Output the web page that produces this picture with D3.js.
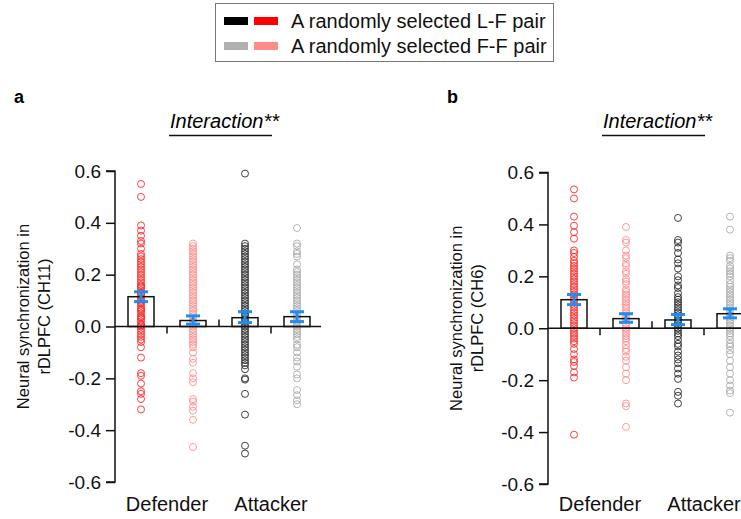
<!DOCTYPE html>
<html><head><meta charset="utf-8">
<script src="https://cdn.jsdelivr.net/npm/d3@7"></script>
<style>body{margin:0;background:#fff}svg{display:block;font-family:"Liberation Sans",Arial,sans-serif}</style>
</head><body>
<svg id="c" width="741" height="519"></svg>
<script>
const groups = ["Defender L-F","Defender F-F","Attacker L-F","Attacker F-F"];
const roles = ["Defender","Attacker"];
const yTicks = [0.6,0.4,0.2,0.0,-0.2,-0.4,-0.6];
const colors = ["#ff2020","#ff8a8a","#222222","#a8a8a8"];
const legendRows = ["A randomly selected L-F pair","A randomly selected F-F pair"];
const legendColors = [["#000000","#ff0000"],["#b0b0b0","#ff8a8a"]];

// Panel a (CH11)
const aMeans = [0.115,0.023,0.034,0.038];
const aLow = [0.096,0.009,0.015,0.019];
const aHigh = [0.134,0.041,0.057,0.057];
const aRed = [0.55,0.50,0.39,0.37,0.35,0.33,0.32,0.30,0.28,0.27,0.26,0.25,0.24,0.23,0.22,0.21,0.20,0.19,0.18,0.17,0.16,0.155,0.15,0.14,0.13,0.125,0.12,0.11,0.10,0.095,0.09,0.08,0.07,0.065,0.06,0.05,0.04,0.035,0.03,0.02,0.01,0.005,0.0,-0.01,-0.02,-0.03,-0.04,-0.05,-0.06,-0.08,-0.12,-0.18,-0.19,-0.22,-0.25,-0.26,-0.28,-0.32];
const aPink = [0.32,0.31,0.30,0.29,0.28,0.27,0.26,0.25,0.24,0.23,0.22,0.21,0.20,0.19,0.18,0.17,0.16,0.15,0.14,0.13,0.12,0.11,0.10,0.09,0.08,0.07,0.06,0.05,0.04,0.03,0.02,0.01,0.0,-0.01,-0.02,-0.03,-0.04,-0.05,-0.06,-0.07,-0.08,-0.10,-0.125,-0.14,-0.18,-0.20,-0.215,-0.28,-0.29,-0.31,-0.325,-0.36,-0.465];
const aBlack = [0.59,0.32,0.31,0.30,0.29,0.28,0.27,0.26,0.25,0.24,0.23,0.22,0.21,0.20,0.19,0.18,0.17,0.16,0.15,0.14,0.13,0.12,0.11,0.10,0.09,0.08,0.07,0.06,0.05,0.04,0.03,0.02,0.01,0.0,-0.01,-0.02,-0.03,-0.04,-0.05,-0.06,-0.07,-0.08,-0.09,-0.10,-0.11,-0.12,-0.13,-0.14,-0.15,-0.165,-0.20,-0.205,-0.26,-0.34,-0.46,-0.49];
const aGray = [0.38,0.32,0.31,0.29,0.28,0.27,0.24,0.22,0.21,0.20,0.19,0.18,0.17,0.16,0.15,0.14,0.13,0.12,0.11,0.10,0.09,0.08,0.07,0.06,0.05,0.04,0.03,0.02,0.01,0.0,-0.01,-0.02,-0.03,-0.04,-0.05,-0.07,-0.08,-0.10,-0.12,-0.135,-0.155,-0.185,-0.20,-0.245,-0.265,-0.285,-0.30];

// Panel b (CH6)
const bMeans = [0.110,0.037,0.032,0.056];
const bLow = [0.091,0.023,0.014,0.040];
const bHigh = [0.130,0.056,0.053,0.075];
const bRed = [0.535,0.50,0.43,0.395,0.37,0.345,0.30,0.29,0.275,0.26,0.25,0.24,0.23,0.22,0.21,0.20,0.19,0.18,0.17,0.16,0.15,0.14,0.13,0.12,0.11,0.10,0.09,0.08,0.07,0.06,0.05,0.04,0.03,0.02,0.01,0.0,-0.01,-0.02,-0.03,-0.04,-0.05,-0.06,-0.08,-0.10,-0.12,-0.13,-0.145,-0.17,-0.19,-0.41];
const bPink = [0.39,0.34,0.33,0.30,0.28,0.27,0.25,0.24,0.22,0.21,0.19,0.18,0.17,0.15,0.14,0.13,0.12,0.11,0.10,0.09,0.08,0.07,0.06,0.05,0.04,0.03,0.02,0.01,0.0,-0.01,-0.02,-0.03,-0.04,-0.05,-0.065,-0.08,-0.09,-0.11,-0.125,-0.15,-0.175,-0.20,-0.29,-0.30,-0.38];
const bBlack = [0.425,0.34,0.33,0.31,0.29,0.265,0.25,0.23,0.20,0.185,0.165,0.155,0.135,0.12,0.11,0.10,0.09,0.08,0.07,0.06,0.05,0.04,0.03,0.02,0.01,0.0,-0.01,-0.02,-0.03,-0.045,-0.06,-0.07,-0.09,-0.105,-0.12,-0.135,-0.155,-0.175,-0.195,-0.245,-0.26,-0.29];
const bGray = [0.43,0.38,0.28,0.27,0.26,0.24,0.23,0.22,0.21,0.20,0.185,0.17,0.16,0.15,0.14,0.13,0.12,0.11,0.10,0.09,0.08,0.07,0.06,0.05,0.04,0.03,0.02,0.01,0.0,-0.01,-0.02,-0.03,-0.045,-0.06,-0.07,-0.085,-0.10,-0.125,-0.15,-0.175,-0.20,-0.22,-0.24,-0.25,-0.325];

const svg = d3.select("#c");

// Legend
const lg = svg.append("g");
lg.append("rect").attr("x",215.5).attr("y",3.5).attr("width",338).attr("height",58)
  .attr("fill","#fff").attr("stroke","#777").attr("stroke-width",1);
legendRows.forEach((t,i)=>{
  const cy = 21 + i*25;
  legendColors[i].forEach((c,j)=>{
    lg.append("rect").attr("x",224 + j*30).attr("y",cy-4).attr("width",24).attr("height",8).attr("fill",c);
  });
  lg.append("text").attr("x",291).attr("y",cy+7).attr("font-size",20).attr("fill","#111").text(t);
});

const fmt = d => d3.format(".1f")(d).replace("\u2212","-");

function panel(opt){
  const g = svg.append("g");
  const y = d3.scaleLinear().domain([-0.6,0.6]).range([opt.y0, opt.y1]);
  const x = d3.scaleBand().domain(groups).range([opt.ax, opt.ax + 208]).paddingInner(0.5).paddingOuter(0.25);
  const cx = d => x(d) + x.bandwidth()/2;

  // panel letter
  g.append("text").attr("x",opt.ax-101).attr("y",103).attr("font-size",18).attr("font-weight","bold").text(opt.letter);
  // Interaction
  g.append("text").attr("x",opt.ax+55).attr("y",128).attr("font-size",20).attr("font-style","italic").text("Interaction**");
  g.append("line").attr("x1",opt.ax+54).attr("x2",opt.ax+157).attr("y1",135.5).attr("y2",135.5).attr("stroke","#111").attr("stroke-width",1.5);

  // y axis
  const ya = g.append("g").attr("transform",`translate(${opt.ax},0)`)
    .call(d3.axisLeft(y).tickValues(yTicks).tickSize(9).tickPadding(5).tickFormat(fmt));
  ya.select(".domain").attr("stroke","#111").attr("stroke-width",1.5).attr("d",`M-9,${y(0.6)}H0V${y(-0.6)}H-9`);
  ya.selectAll(".tick line").attr("stroke","#111").attr("stroke-width",1.5);
  ya.selectAll(".tick text").attr("font-size",19).attr("fill","#111").attr("font-family","Liberation Sans, Arial, sans-serif");
  // y label
  const lab = g.append("text").attr("transform",`translate(${opt.ax-86},${(y(0.6)+y(-0.6))/2 - 10}) rotate(-90)`)
    .attr("text-anchor","middle").attr("font-size",16.5).attr("fill","#111");
  lab.append("tspan").attr("x",0).attr("dy",0).text("Neural synchronization in");
  lab.append("tspan").attr("x",0).attr("dy",21).text(opt.ylabel);

  // points
  opt.points.forEach((arr,i)=>{
    g.append("g").selectAll("circle").data(arr).join("circle")
      .attr("cx",cx(groups[i])).attr("cy",d=>y(d)).attr("r",3.5)
      .attr("fill","none").attr("stroke",colors[i]).attr("stroke-width",1).attr("stroke-opacity",0.85);
  });

  // bars
  g.append("g").selectAll("rect").data(opt.means).join("rect")
    .attr("x",(d,i)=>cx(groups[i])-13).attr("width",26)
    .attr("y",d=>y(Math.max(0,d))).attr("height",d=>Math.abs(y(d)-y(0)))
    .attr("fill","none").attr("stroke","#111").attr("stroke-width",1.5);

  // x axis line
  g.append("line").attr("x1",opt.ax).attr("x2",opt.xEnd).attr("y1",y(0)).attr("y2",y(0)).attr("stroke","#111").attr("stroke-width",1.5);
  const sep = [0,1,2].map(i => (cx(groups[i])+cx(groups[i+1]))/2);
  sep.forEach((s,i)=>{
    const up = i===1;
    g.append("line").attr("x1",s).attr("x2",s).attr("y1",y(0)).attr("y2",y(0)+(up?-7:7)).attr("stroke","#111").attr("stroke-width",1.5);
  });

  // error bars
  opt.means.forEach((m,i)=>{
    const c = cx(groups[i]);
    const eb = g.append("g").attr("stroke","#1e8ff0").attr("stroke-width",3);
    eb.append("line").attr("x1",c).attr("x2",c).attr("y1",y(opt.low[i])).attr("y2",y(opt.high[i]));
    eb.append("line").attr("x1",c-7).attr("x2",c+7).attr("y1",y(opt.low[i])).attr("y2",y(opt.low[i]));
    eb.append("line").attr("x1",c-7).attr("x2",c+7).attr("y1",y(opt.high[i])).attr("y2",y(opt.high[i]));
  });

  // category labels
  roles.forEach((r,i)=>{
    const c = (cx(groups[2*i])+cx(groups[2*i+1]))/2;
    g.append("text").attr("x",c).attr("y",511).attr("text-anchor","middle").attr("font-size",20).attr("fill","#111").text(r);
  });
}

panel({letter:"a", ax:115, y0:482, y1:171, xEnd:321, ylabel:"rDLPFC (CH11)",
  means:aMeans, low:aLow, high:aHigh, points:[aRed,aPink,aBlack,aGray]});
panel({letter:"b", ax:548, y0:484, y1:172.5, xEnd:741, ylabel:"rDLPFC (CH6)",
  means:bMeans, low:bLow, high:bHigh, points:[bRed,bPink,bBlack,bGray]});
</script>
</body></html>
